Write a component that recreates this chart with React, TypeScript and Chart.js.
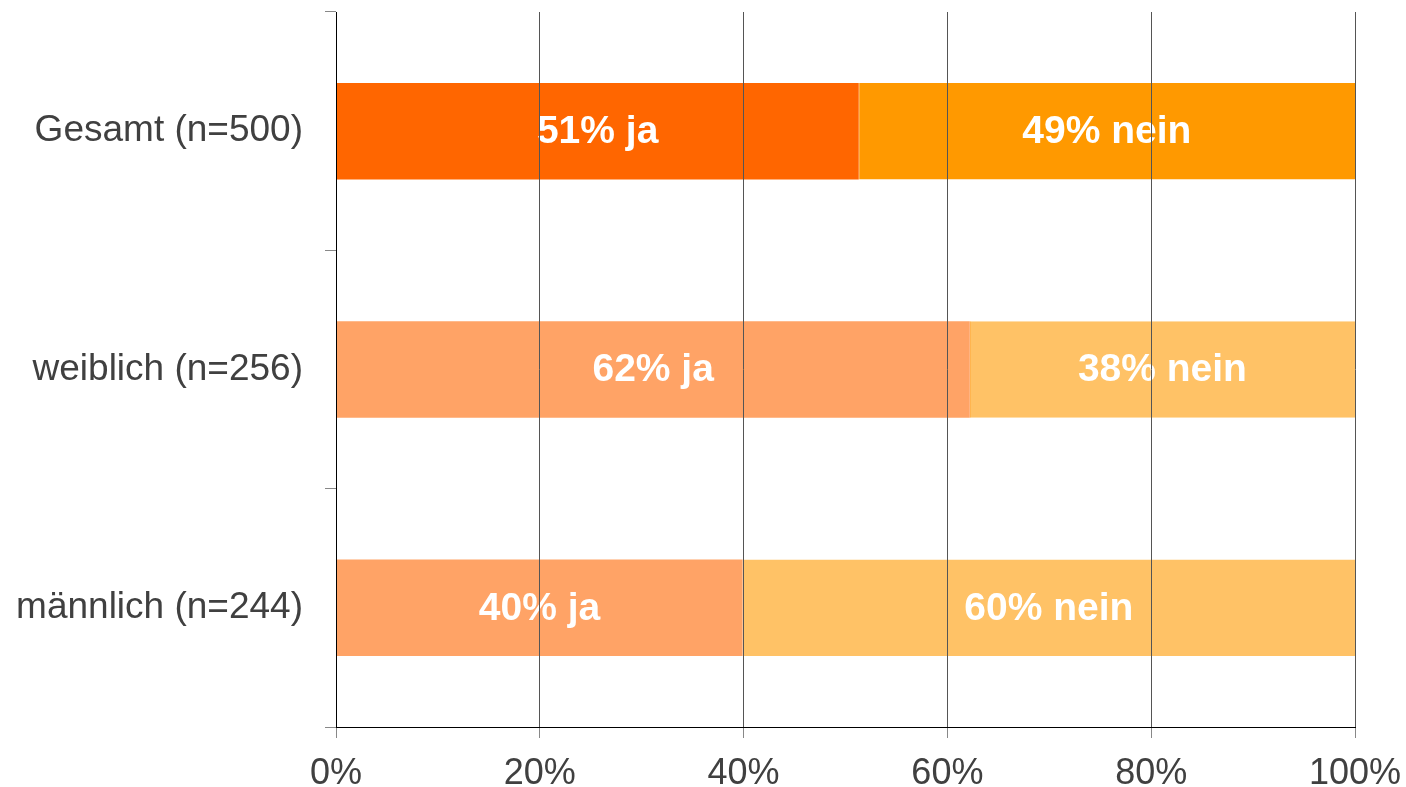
import React, { useEffect, useRef } from "react";
import { Chart, registerables } from "chart.js";

Chart.register(...registerables);

const categories = ["Gesamt (n=500)", "weiblich (n=256)", "männlich (n=244)"];
const jaValues = [51.3, 62.2, 39.9];
const neinValues = [48.7, 37.8, 60.1];
const jaColors = ["#FF6600", "#FFA366", "#FFA366"];
const neinColors = ["#FF9900", "#FFC266", "#FFC266"];
const jaSuffix = "% ja";
const neinSuffix = "% nein";
const xTicks = [0, 20, 40, 60, 80, 100];

const FONT = "'Liberation Sans', Arial, Helvetica, sans-serif";

const labelPlugin = {
  id: "segLabels",
  afterDatasetsDraw(chart: any) {
    const ctx = chart.ctx;
    ctx.save();
    ctx.fillStyle = "#FFFFFF";
    ctx.font = `bold 39px ${FONT}`;
    ctx.textAlign = "center";
    ctx.textBaseline = "middle";
    chart.data.datasets.forEach((ds: any, di: number) => {
      const meta = chart.getDatasetMeta(di);
      meta.data.forEach((el: any, i: number) => {
        const v = ds.data[i];
        const cx = (el.x + el.base) / 2;
        const text = Math.round(v) + ds.labelSuffix;
        ctx.fillText(text, cx, el.y + 1);
      });
    });
    ctx.restore();
  },
};

export default function App() {
  const ref = useRef<HTMLCanvasElement>(null);
  useEffect(() => {
    document.body.style.margin = "0";
    const chart = new Chart(ref.current!, {
      type: "bar",
      data: {
        labels: categories,
        datasets: [
          {
            label: "ja",
            data: jaValues,
            backgroundColor: jaColors,
            labelSuffix: jaSuffix,
            barPercentage: 0.405,
            categoryPercentage: 1,
          } as any,
          {
            label: "nein",
            data: neinValues,
            backgroundColor: neinColors,
            borderColor: "#FFA020",
            borderWidth: { left: 1, right: 0, top: 0, bottom: 0 },
            borderSkipped: false,
            labelSuffix: neinSuffix,
            barPercentage: 0.405,
            categoryPercentage: 1,
          } as any,
        ],
      },
      options: {
        indexAxis: "y",
        responsive: false,
        animation: false,
        layout: { padding: { top: 12, right: 51, left: 0, bottom: -23 } },
        plugins: { legend: { display: false }, tooltip: { enabled: false } },
        scales: {
          x: {
            stacked: true,
            min: 0,
            max: 100,
            afterBuildTicks: (scale: any) => {
              scale.ticks = xTicks.map((v) => ({ value: v }));
            },
            afterFit: (scale: any) => {
              scale.paddingLeft = 0;
              scale.paddingRight = 0;
            },
            ticks: {
              callback: (v: any) => v + "%",
              color: "#404040",
              font: { family: FONT, size: 36, lineHeight: 1 },
              padding: 18,
              maxRotation: 0,
            },
            grid: {
              color: "#555555",
              lineWidth: 1,
              drawTicks: true,
              tickLength: 11,
              tickColor: "#888888",
              z: 1,
            },
            border: { display: true, color: "#000000", width: 1, z: 2 },
          },
          y: {
            stacked: true,
            afterFit: (scale: any) => {
              scale.width = 336;
              scale.paddingTop = 0;
              scale.paddingBottom = 0;
            },
            ticks: {
              color: "#404040",
              font: { family: FONT, size: 37 },
              padding: 22,
            },
            grid: {
              offset: true,
              drawOnChartArea: false,
              drawTicks: true,
              tickLength: 11,
              tickColor: "#888888",
            },
            border: { display: true, color: "#000000", width: 1, z: 2 },
          },
        },
      },
      plugins: [labelPlugin],
    });
    return () => chart.destroy();
  }, []);
  return (
    <div style={{ position: "absolute", left: 0, top: 0, width: 1406, height: 787 }}>
      <canvas ref={ref} width={1406} height={787} style={{ width: 1406, height: 787, display: "block" }} />
    </div>
  );
}
